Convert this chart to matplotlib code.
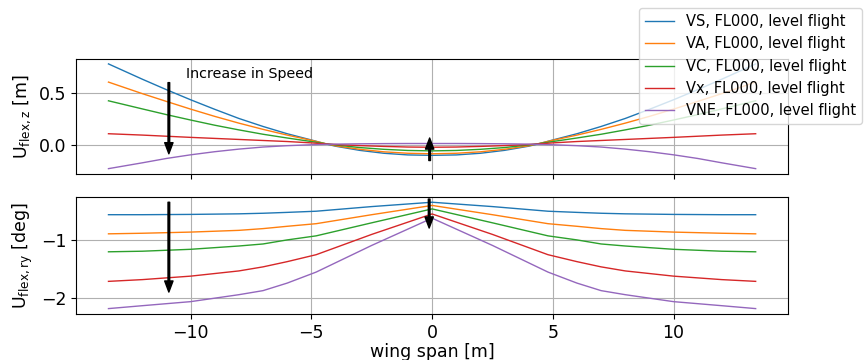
import matplotlib
import matplotlib.pyplot as plt

matplotlib.use("Agg")

# 翼幅方向の位置 [m]
span_z = [-13.4, -12, -11, -10, -9, -8, -7, -6, -5, -4.4, -4, -3, -2, -1, 0,
          1, 2, 3, 4, 4.4, 5, 6, 7, 8, 9, 10, 11, 12, 13.4]
span_ry = [-13.4, -12, -10, -8, -7, -6, -4.8, -2.5, 0,
           2.5, 4.8, 6, 7, 8, 10, 12, 13.4]

labels = [
    "VS, FL000, level flight",
    "VA, FL000, level flight",
    "VC, FL000, level flight",
    "Vx, FL000, level flight",
    "VNE, FL000, level flight",
]

# たわみ U_flex,z [m]
uz_vs = [0.78, 0.633, 0.532, 0.435, 0.343, 0.255, 0.178, 0.108, 0.048, 0.01,
         -0.012, -0.052, -0.08, -0.096, -0.10,
         -0.096, -0.08, -0.052, -0.012, 0.01, 0.048, 0.108, 0.178, 0.255,
         0.343, 0.435, 0.532, 0.633, 0.78]
uz_va = [0.605, 0.494, 0.419, 0.345, 0.275, 0.21, 0.15, 0.095, 0.045, 0.012,
         -0.008, -0.042, -0.066, -0.08, -0.085,
         -0.08, -0.066, -0.042, -0.008, 0.012, 0.045, 0.095, 0.15, 0.21,
         0.275, 0.345, 0.419, 0.494, 0.605]
uz_vc = [0.425, 0.347, 0.292, 0.24, 0.19, 0.145, 0.103, 0.067, 0.033, 0.012,
         0.0, -0.025, -0.042, -0.053, -0.057,
         -0.053, -0.042, -0.025, 0.0, 0.012, 0.033, 0.067, 0.103, 0.145,
         0.19, 0.24, 0.292, 0.347, 0.425]
uz_vx = [0.108, 0.095, 0.084, 0.073, 0.063, 0.053, 0.043, 0.033, 0.02, 0.01,
         0.004, -0.006, -0.014, -0.02, -0.022,
         -0.02, -0.014, -0.006, 0.004, 0.01, 0.02, 0.033, 0.043, 0.053,
         0.063, 0.073, 0.084, 0.095, 0.108]
uz_vne = [-0.228, -0.172, -0.13, -0.095, -0.065, -0.04, -0.02, -0.007, 0.002,
          0.006, 0.008, 0.011, 0.013, 0.014, 0.014,
          0.014, 0.013, 0.011, 0.008, 0.006, 0.002, -0.007, -0.02, -0.04,
          -0.065, -0.095, -0.13, -0.172, -0.228]

# ねじれ U_flex,ry [deg]
ury_vs = [-0.56, -0.56, -0.555, -0.545, -0.535, -0.52, -0.50, -0.42, -0.345,
          -0.42, -0.50, -0.52, -0.535, -0.545, -0.555, -0.56, -0.56]
ury_va = [-0.89, -0.88, -0.86, -0.83, -0.80, -0.76, -0.715, -0.56, -0.40,
          -0.56, -0.715, -0.76, -0.80, -0.83, -0.86, -0.88, -0.89]
ury_vc = [-1.20, -1.19, -1.157, -1.10, -1.065, -0.995, -0.925, -0.70, -0.46,
          -0.70, -0.925, -0.995, -1.065, -1.10, -1.157, -1.19, -1.20]
ury_vx = [-1.71, -1.68, -1.62, -1.53, -1.46, -1.37, -1.25, -0.90, -0.547,
          -0.90, -1.25, -1.37, -1.46, -1.53, -1.62, -1.68, -1.71]
ury_vne = [-2.18, -2.13, -2.06, -1.94, -1.87, -1.74, -1.55, -1.09, -0.62,
           -1.09, -1.55, -1.74, -1.87, -1.94, -2.06, -2.13, -2.18]

uz_all = [uz_vs, uz_va, uz_vc, uz_vx, uz_vne]
ury_all = [ury_vs, ury_va, ury_vc, ury_vx, ury_vne]
colors = ["#1f77b4", "#ff7f0e", "#2ca02c", "#d62728", "#9467bd"]

fig = plt.figure(figsize=(8.65, 3.6), dpi=100)
ax1 = fig.add_axes([0.088, 0.517, 0.823, 0.320])
ax2 = fig.add_axes([0.088, 0.128, 0.823, 0.325], sharex=ax1)

for uz, ury, c, lab in zip(uz_all, ury_all, colors, labels):
    ax1.plot(span_z, uz, color=c, linewidth=1.0, label=lab)
    ax2.plot(span_ry, ury, color=c, linewidth=1.0)

arrow = dict(facecolor="black", edgecolor="black", width=1.2,
             headwidth=6, headlength=8, shrink=0.0)

# 速度増加の矢印
ax1.annotate("", xy=(-10.9, -0.085), xytext=(-10.9, 0.60), arrowprops=arrow)
ax1.annotate("", xy=(-0.1, 0.067), xytext=(-0.1, -0.15), arrowprops=arrow)
ax1.text(-10.2, 0.68, "Increase in Speed", fontsize=10.3, va="center")
ax2.annotate("", xy=(-10.9, -1.895), xytext=(-10.9, -0.345), arrowprops=arrow)
ax2.annotate("", xy=(-0.12, -0.79), xytext=(-0.12, -0.29), arrowprops=arrow)

for ax in (ax1, ax2):
    ax.grid(True)
    ax.tick_params(labelsize=12.5)

ax1.set_xticks([-10, -5, 0, 5, 10])
ax1.set_yticks([0.0, 0.5])
ax2.set_yticks([-2, -1])
ax1.tick_params(labelbottom=False)

ax1.set_ylabel(r"U$_\mathrm{flex,z}$ [m]", fontsize=12.5)
ax2.set_ylabel(r"U$_\mathrm{flex,ry}$ [deg]", fontsize=12.5)
ax2.set_xlabel("wing span [m]", fontsize=12.5, labelpad=1)

fig.legend(loc="upper right", bbox_to_anchor=(1.0, 0.985), fontsize=10.5,
           borderaxespad=0.2)

plt.savefig("out.png", dpi=100)
plt.close()
